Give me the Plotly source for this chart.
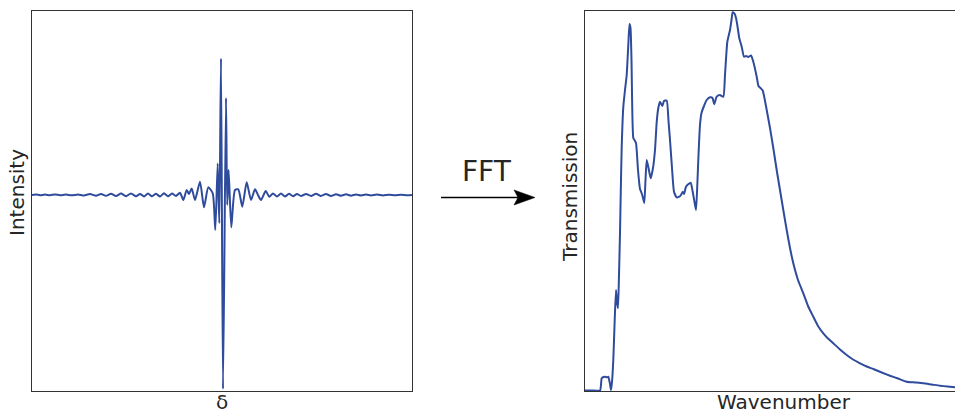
import plotly.graph_objects as go

# ---- Interferogram (left) ----
delta = [0, 4, 8, 13, 18, 23, 28, 34, 40, 46, 52, 58, 64, 69, 74, 79, 84, 89, 94, 99,
         104, 108, 112, 116, 120, 124, 128, 132, 136, 140, 144, 148, 151.3, 154.7, 157,
         159.7, 163, 168, 172, 176.3, 180.7, 183.3, 185.7, 187.3, 189, 191, 194, 195.2,
         196.6, 199.3, 203, 206.3, 210.3, 214.7, 219, 223, 226, 229, 233.7, 237.3, 241,
         245, 249, 253, 257, 261, 265, 269, 274, 279, 284, 289, 294, 299, 304, 309, 314,
         319, 324, 329, 334, 339, 345, 351, 357, 363, 369, 375, 380]
intensity = [0, 0.0026, -0.001, 0.002, -0.001, 0.0026, -0.001, 0.002, -0.002, 0.003,
             -0.0026, 0.0045, -0.0036, 0.0052, -0.0045, 0.0062, -0.0052, 0.0072, -0.0062,
             0.0082, -0.0062, 0.0052, -0.0072, 0.0077, -0.0067, 0.0062, -0.0077, 0.0088,
             -0.0067, 0.0077, -0.0052, 0.0119, -0.0258, 0.0258, 0.0052, 0.034, -0.0258,
             0.0686, -0.0634, 0.0397, 0.009, -0.1804, 0.1624, -0.1459, 0.7036, -1.0, 0.5,
             -0.0515, 0.1289, -0.1667, 0.0258, 0.0294, -0.0603, 0.0655, -0.0258, 0.0294, 0,
             -0.0258, 0.0206, -0.009, 0.0077, -0.0077, 0.0077, -0.0077, 0.0062, -0.0067,
             0.0052, -0.0052, 0.0052, -0.0052, 0.0062, -0.0052, 0.0052, -0.0052, 0.0041,
             -0.0041, 0.0036, -0.0036, 0.0026, -0.0026, 0.0021, -0.0026, 0.0021, -0.0021,
             0.001, -0.0015, 0.001, -0.001, 0]

# ---- Spectrum (right) ----
wavenumber = [0, 7, 15, 16.7, 18.5, 20, 22, 23.3, 25, 26, 27, 28.3, 29.7, 31, 32, 33, 34, 35,
              35.8, 36.7, 38.3, 40, 41.7, 43.3, 44.5, 45.5, 46.5, 48.3, 49.5, 51, 53, 55,
              56.7, 58, 59.3, 60.5, 61.7, 63.5, 65.7, 68, 70, 71.7, 73.3, 75, 77.3, 79, 81.7,
              83.5, 85, 87, 89, 91.7, 94.3, 96, 97.7, 99, 101, 103.5, 105.7, 107.7, 109.5,
              111, 112.3, 113.5, 115, 116.5, 119, 121.7, 125, 127.5, 129.2, 131.7, 135,
              138.3, 140, 142.3, 145, 146.5, 147.7, 149.5, 151, 152.3, 154.3, 156.7, 159,
              161, 163.3, 166, 168.3, 171.7, 173.5, 175.5, 177.7, 181.7, 185, 188.3, 192,
              195, 198.3, 201.7, 205, 208.3, 213, 218.3, 223, 228.3, 233, 238.3, 243, 248.3,
              255, 261.7, 268, 275, 281.7, 288.3, 296.7, 305, 313, 321.7, 330, 338.3, 346.7,
              355, 362.5, 370]
transmission = [0.0013, 0.0013, 0.0013, 0.0334, 0.0368, 0.0376, 0.036, 0.0376, 0.0184, 0.0026,
                0.0237, 0.0816, 0.1868, 0.2658, 0.2342, 0.2176, 0.3053, 0.4158, 0.5289,
                0.6421, 0.7474, 0.7921, 0.8316, 0.9105, 0.9658, 0.9553, 0.8711, 0.6658,
                0.6605, 0.6526, 0.5816, 0.5316, 0.5203, 0.5079, 0.4947, 0.5553, 0.6079,
                0.5868, 0.5597, 0.5868, 0.6342, 0.7079, 0.7447, 0.7613, 0.75, 0.7632, 0.7645,
                0.7105, 0.6605, 0.5868, 0.5245, 0.5097, 0.5113, 0.5158, 0.5245, 0.5184,
                0.5376, 0.5447, 0.5482, 0.5245, 0.4974, 0.4763, 0.5421, 0.6211, 0.7, 0.7316,
                0.75, 0.7658, 0.7729, 0.7711, 0.7545, 0.7745, 0.7789, 0.7745, 0.8316, 0.9184,
                0.95, 0.9763, 0.9966, 0.9934, 0.9816, 0.9632, 0.9282, 0.9061, 0.8797, 0.8816,
                0.8789, 0.8829, 0.8666, 0.8271, 0.8026, 0.7974, 0.7908, 0.7395, 0.6921,
                0.6395, 0.5763, 0.5289, 0.4763, 0.4237, 0.3763, 0.3361, 0.2921, 0.2571,
                0.2237, 0.1955, 0.1711, 0.1518, 0.1382, 0.1255, 0.1092, 0.0947, 0.0829,
                0.0729, 0.0645, 0.0579, 0.0487, 0.0403, 0.0329, 0.0245, 0.0224, 0.0203,
                0.0171, 0.0139, 0.0118, 0.0097]

W, H = 955, 414
BLUE = "#2f4b9c"
FRAME = "#333333"
TXT = "#262626"
FONT = "DejaVu Sans"


def px(x):
    return x / W


def py(y):
    return 1 - y / H


fig = go.Figure()
fig.add_trace(go.Scatter(x=delta, y=intensity, mode="lines",
                         line=dict(color=BLUE, width=2, shape="spline", smoothing=0.6),
                         xaxis="x", yaxis="y", hoverinfo="skip"))
fig.add_trace(go.Scatter(x=wavenumber, y=transmission, mode="lines",
                         line=dict(color=BLUE, width=2, shape="spline", smoothing=0.5),
                         xaxis="x2", yaxis="y2", hoverinfo="skip"))

common = dict(showgrid=False, zeroline=False, showticklabels=False, ticks="",
              showline=True, linecolor=FRAME, linewidth=1.3, fixedrange=True)
ydom = [py(391), py(11)]
fig.update_layout(
    width=W, height=H,
    margin=dict(l=0, r=0, t=0, b=0),
    paper_bgcolor="white", plot_bgcolor="white",
    showlegend=False,
    font=dict(family=FONT, color=TXT),
    xaxis=dict(domain=[px(32), px(412)], range=[0, 380], mirror=True, anchor="y", **common),
    yaxis=dict(domain=ydom, range=[-1.01, 0.948], mirror=True, anchor="x", **common),
    xaxis2=dict(domain=[px(585), 1.0], range=[0, 370], mirror=True, anchor="y2", **common),
    yaxis2=dict(domain=ydom, range=[0, 1], mirror=False, anchor="x2", **common),
)

annots = [
    dict(text="Intensity", x=px(17), y=py(193), textangle=-90, size=20),
    dict(text="δ", x=px(222), y=py(402), textangle=0, size=20),
    dict(text="Transmission", x=px(570), y=py(197), textangle=-90, size=20),
    dict(text="Wavenumber", x=px(784), y=py(402), textangle=0, size=20),
    dict(text="FFT", x=px(487), y=py(171), textangle=0, size=28),
]
for a in annots:
    fig.add_annotation(text=a["text"], x=a["x"], y=a["y"], xref="paper", yref="paper",
                       showarrow=False, textangle=a["textangle"], xanchor="center",
                       yanchor="middle", font=dict(size=a["size"], family=FONT, color=TXT))

# FFT arrow
fig.add_shape(type="line", xref="paper", yref="paper", x0=px(441), x1=px(520),
              y0=py(197.5), y1=py(197.5), line=dict(color="black", width=1.5))
fig.add_shape(type="path", xref="paper", yref="paper",
              path=f"M {px(514)},{py(190)} L {px(535)},{py(197.5)} L {px(514)},{py(205)} L {px(518)},{py(197.5)} Z",
              fillcolor="black", line=dict(color="black", width=0.5))

fig.write_html(
    "out.html",
    config=dict(displayModeBar=False),
    post_script="document.body.style.margin='0';document.body.style.overflow='hidden';",
)
